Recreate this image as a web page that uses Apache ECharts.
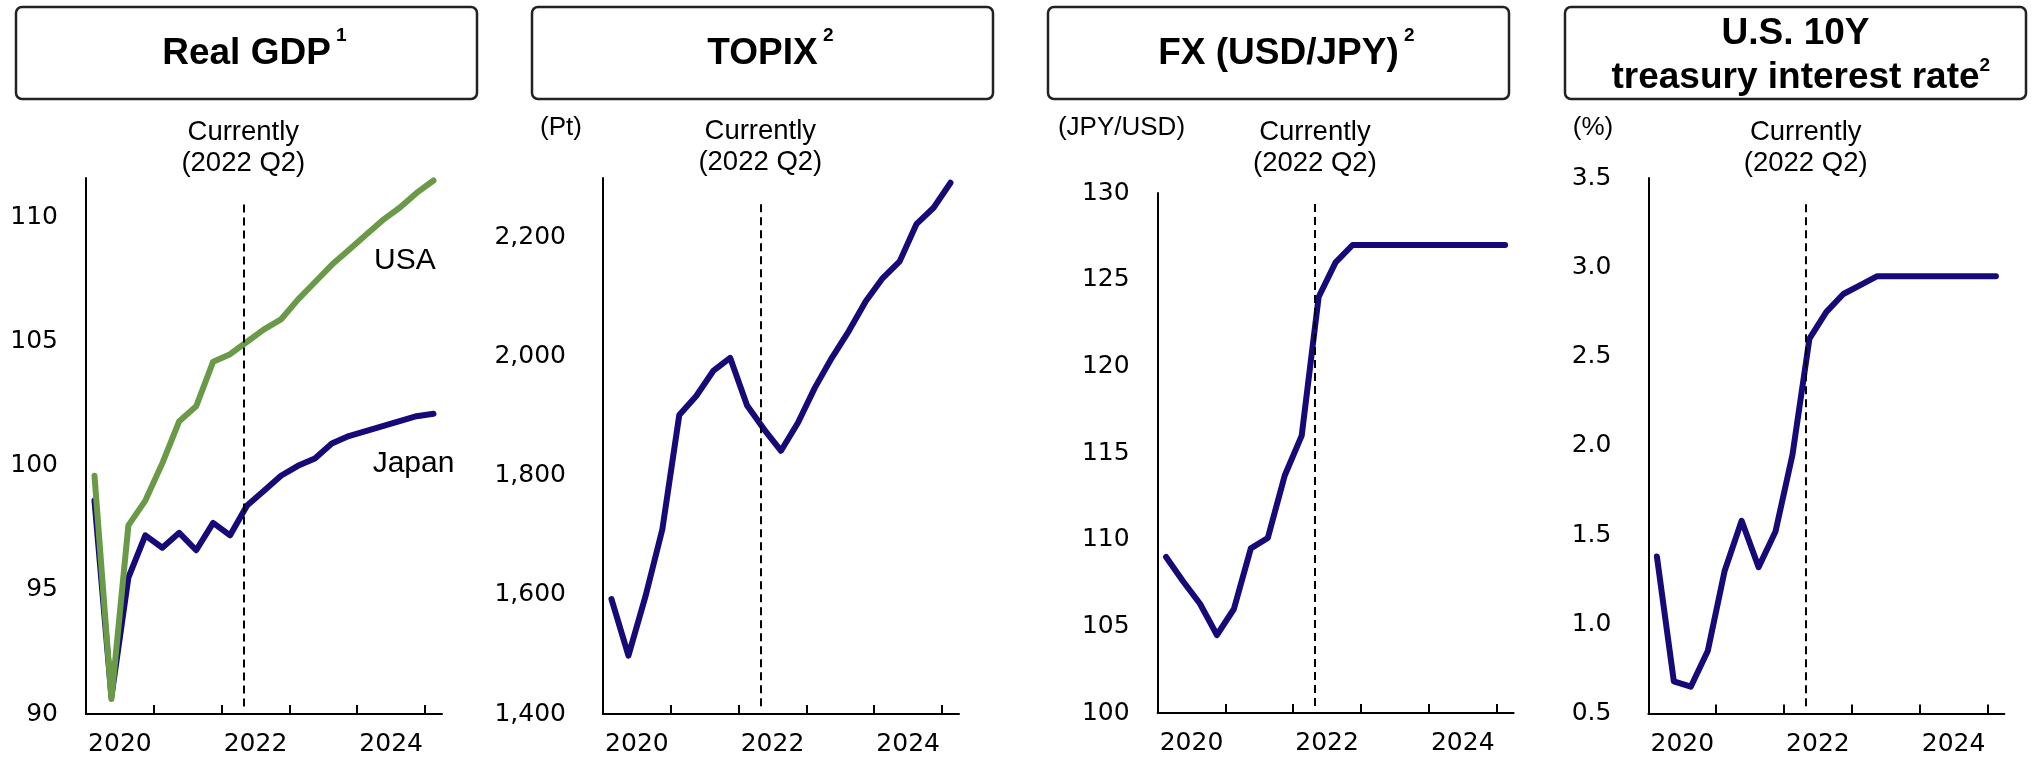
<!DOCTYPE html>
<html>
<head>
<meta charset="utf-8">
<title>Real GDP, TOPIX, FX, U.S. 10Y</title>
<script src="https://cdn.jsdelivr.net/npm/echarts@6/dist/echarts.min.js"></script>
<style>
  html, body { margin: 0; padding: 0; background: #fff; }
  #chartBox { width: 2032px; height: 758px; }
</style>
</head>
<body>
<div id="chartBox"></div>
<script>
// 四半期
var quarters = ['2020Q1', '2020Q2', '2020Q3', '2020Q4', '2021Q1', '2021Q2', '2021Q3', '2021Q4',
    '2022Q1', '2022Q2', '2022Q3', '2022Q4', '2023Q1', '2023Q2', '2023Q3', '2023Q4',
    '2024Q1', '2024Q2', '2024Q3', '2024Q4', '2025Q1'];

// 系列データ
var gdpJapan = [98.6, 90.7, 95.5, 97.2, 96.7, 97.3, 96.6, 97.7, 97.2, 98.4, 99.0, 99.6, 100.0, 100.3, 100.9, 101.2, 101.4, 101.6, 101.8, 102.0, 102.1];
var gdpUSA = [99.6, 90.6, 97.6, 98.6, 100.1, 101.8, 102.4, 104.2, 104.5, 105.0, 105.5, 105.9, 106.7, 107.4, 108.1, 108.7, 109.3, 109.9, 110.4, 111.0, 111.5];
var topix = [1593, 1498, 1597, 1710, 1902, 1934, 1976, 1998, 1918, 1878, 1842, 1889, 1948, 1998, 2043, 2093, 2132, 2160, 2223, 2250, 2292];
var usdJpy = [109.0, 107.6, 106.3, 104.5, 106.0, 109.5, 110.1, 113.7, 116.0, 124.0, 126.0, 127.0, 127.0, 127.0, 127.0, 127.0, 127.0, 127.0, 127.0, 127.0, 127.0];
var us10y = [1.38, 0.68, 0.65, 0.85, 1.30, 1.58, 1.32, 1.52, 1.95, 2.60, 2.75, 2.85, 2.90, 2.95, 2.95, 2.95, 2.95, 2.95, 2.95, 2.95, 2.95];

// 目盛り
var yearTicks = [2021, 2022, 2023, 2024, 2025];
var yearLabels = ['2020', '2022', '2024'];
var gdpTicks = [90, 95, 100, 105, 110];
var topixTicks = [1400, 1600, 1800, 2000, 2200];
var fxTicks = [100, 105, 110, 115, 120, 125, 130];
var rateTicks = [0.5, 1.0, 1.5, 2.0, 2.5, 3.0, 3.5];

// 「現在」の位置 (2022 Q2)
var currentX = 2022.32;
var currentText = 'Currently\n(2022 Q2)';

var NAVY = '#160a78';
var GREEN = '#6a9a47';
var SANS = 'Liberation Sans';
var AXIS_FONT = 'DejaVu Sans';

// 四半期 -> 年 (四半期の中央)
function toYear(q) {
    return +q.slice(0, 4) + (+q.slice(5) - 0.5) / 4;
}
function pairs(vals) {
    return quarters.map(function (q, i) { return [toYear(q), vals[i]]; });
}

var myChart = echarts.init(document.getElementById('chartBox'));

var grids = [
    { left: 86, top: 178, width: 356, height: 536 },
    { left: 603, top: 178, width: 356, height: 536 },
    { left: 1157.6, top: 193, width: 356, height: 520 },
    { left: 1648.4, top: 178, width: 356, height: 535.5 }
];

function xAxisFor(i) {
    return {
        type: 'value', gridIndex: i, min: 2020, max: 2025.25,
        axisLine: { show: true, onZero: false, lineStyle: { color: '#000', width: 2 } },
        axisTick: { show: true, inside: true, length: 9, customValues: yearTicks, lineStyle: { color: '#000', width: 2 } },
        axisLabel: {
            customValues: yearLabels.map(function (y) { return +y + 0.5; }),
            formatter: function (v) { return String(Math.floor(v)); },
            fontSize: 25, fontFamily: AXIS_FONT, color: '#000', margin: 18
        },
        splitLine: { show: false }
    };
}

function yAxisFor(i, ticks, max, margin, fmt) {
    return {
        type: 'value', gridIndex: i, min: ticks[0], max: max,
        axisLine: { show: true, onZero: false, lineStyle: { color: '#000', width: 2 } },
        axisTick: { show: false },
        axisLabel: {
            customValues: ticks, formatter: fmt,
            fontSize: 25, fontFamily: AXIS_FONT, color: '#000', margin: margin
        },
        splitLine: { show: false }
    };
}

// 点線 + ラベル
function currentMark(lo, hi) {
    return {
        silent: true,
        symbol: ['none', 'none'],
        lineStyle: { type: [8, 5], color: '#000', width: 2 },
        label: {
            show: true, position: 'end', distance: 24,
            formatter: currentText, fontSize: 27.5, fontFamily: SANS, color: '#000', lineHeight: 31
        },
        emphasis: { disabled: true },
        data: [[{ coord: [currentX, lo] }, { coord: [currentX, hi] }]]
    };
}

function lineSeries(i, vals, color, extra) {
    var s = {
        type: 'line', xAxisIndex: i, yAxisIndex: i,
        data: pairs(vals), symbol: 'none',
        lineStyle: { color: color, width: 6, cap: 'round', join: 'round' },
        emphasis: { disabled: true }
    };
    return Object.assign(s, extra || {});
}

function nameMark(x, y, text) {
    return {
        symbol: 'circle', symbolSize: 1, itemStyle: { color: 'rgba(0,0,0,0)' },
        label: { show: true, position: 'right', distance: 0, formatter: text, fontSize: 30, fontFamily: SANS, color: '#000' },
        data: [{ coord: [x, y] }]
    };
}

// タイトル枠
var titleBoxes = [
    { x: 16, text: '{h| 1}{m|Real GDP}{s| 1}' },
    { x: 532, text: '{h| 2}{m|TOPIX}{s| 2}' },
    { x: 1048, text: '{h| 2}{m|FX (USD/JPY)}{s| 2}' },
    { x: 1565, text: '{m|U.S. 10Y}\n{h|2}{m|treasury interest rate}{s|2}', two: true }
];

var graphics = [];
titleBoxes.forEach(function (b) {
    graphics.push({
        type: 'rect', shape: { x: b.x, y: 7, width: 461, height: 92, r: 6 },
        style: { fill: 'rgba(0,0,0,0)', stroke: '#222', lineWidth: 2.5 }, silent: true
    });
    var supH = b.two ? 6 : 7;
    graphics.push({
        type: 'text', x: b.x + 230.5, y: b.two ? 56 : 53.5, silent: true,
        style: {
            text: b.text, align: 'center', verticalAlign: 'middle', textAlign: 'center', textVerticalAlign: 'middle',
            rich: {
                m: { fontSize: 37, fontWeight: 'bold', fontFamily: SANS, fill: '#000', color: '#000', lineHeight: b.two ? 44 : 54 },
                s: { fontSize: 19, fontWeight: 'bold', fontFamily: SANS, fill: '#000', color: '#000', lineHeight: supH, verticalAlign: 'top' },
                h: { fontSize: 19, fontWeight: 'bold', fontFamily: SANS, fill: 'rgba(0,0,0,0)', color: 'rgba(0,0,0,0)', lineHeight: supH, verticalAlign: 'top' }
            }
        }
    });
});

// 単位
[[561, '(Pt)'], [1121.5, '(JPY/USD)'], [1593, '(%)']].forEach(function (u) {
    graphics.push({
        type: 'text', x: u[0], y: 128, silent: true,
        style: { text: u[1], align: 'center', verticalAlign: 'middle', textAlign: 'center', textVerticalAlign: 'middle',
            fontSize: 26, fontFamily: SANS, fill: '#000' }
    });
});

var option = {
    animation: false,
    backgroundColor: '#fff',
    textStyle: { fontFamily: AXIS_FONT },
    grid: grids,
    xAxis: [xAxisFor(0), xAxisFor(1), xAxisFor(2), xAxisFor(3)],
    yAxis: [
        yAxisFor(0, gdpTicks, 111.6, 28),
        yAxisFor(1, topixTicks, 2300, 37, function (v) { return v.toLocaleString('en-US'); }),
        yAxisFor(2, fxTicks, 130, 28),
        yAxisFor(3, rateTicks, 3.5, 37, function (v) { return v.toFixed(1); })
    ],
    series: [
        lineSeries(0, gdpJapan, NAVY, { markLine: currentMark(90.3, 110.6), markPoint: nameMark(2024.22, 100.07, 'Japan') }),
        lineSeries(0, gdpUSA, GREEN, { markPoint: nameMark(2024.24, 108.27, 'USA') }),
        lineSeries(1, topix, NAVY, { markLine: currentMark(1413, 2259) }),
        lineSeries(2, usdJpy, NAVY, { markLine: currentMark(100.4, 129.4) }),
        lineSeries(3, us10y, NAVY, { markLine: currentMark(0.54, 3.36) })
    ],
    graphic: graphics
};

myChart.setOption(option);
window.addEventListener('resize', function () {
    myChart.resize();
});
</script>
</body>
</html>
